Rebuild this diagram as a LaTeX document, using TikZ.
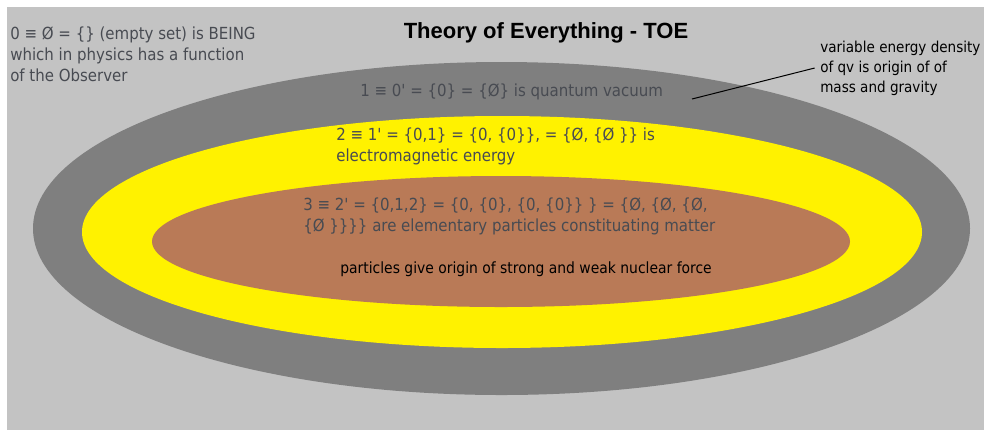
\documentclass[tikz,border=0pt]{standalone}
\usepackage{fontspec}
\newfontfamily\labelfont{DejaVu Sans Condensed}
\newfontfamily\titlefont{Liberation Sans}
\usetikzlibrary{positioning}
\definecolor{bggrey}{HTML}{C3C3C3}
\definecolor{qvgrey}{HTML}{7F7F7F}
\definecolor{emyellow}{HTML}{FFF200}
\definecolor{matterbrown}{HTML}{B97A57}
\definecolor{textgrey}{HTML}{484B52}

\begin{document}
\begin{tikzpicture}[x=0.75pt, y=-0.75pt]
        \tikzset{
            settext/.style={anchor=west, inner sep=0pt, align=left, text=textgrey,
                font=\labelfont\fontsize{12.5}{15.75}\selectfont},
            notetext/.style={anchor=west, inner sep=0pt, align=left, text=black,
                font=\labelfont\fontsize{11.6}{15}\selectfont},
            titletext/.style={inner sep=0pt, text=black,
                font=\titlefont\bfseries\fontsize{16.5}{19}\selectfont}
        }
        \useasboundingbox (0,0) rectangle (984,430);

        % Layers
        \fill[bggrey] (7,7) rectangle (984,430);
        \fill[qvgrey] (501.5,228.5) ellipse [x radius=468.5, y radius=166.5];
        \fill[emyellow] (502,232) ellipse [x radius=420, y radius=116];
        \fill[matterbrown] (501,241.5) ellipse [x radius=349, y radius=65.5];

        % Nodes
        \node[titletext] (title) at (546,33) {Theory of Everything - TOE};
        \node[settext] (being) at (10,54) {0 ≡ Ø = \{\} (empty set) is BEING\\which in physics has a function\\of the Observer};
        \node[settext] (vacuum) at (360,92) {1 ≡ 0' = \{0\} = \{Ø\} is quantum vacuum};
        \node[settext] (energy) at (336,146.5) {2 ≡ 1' = \{0,1\} = \{0, \{0\}\}, = \{Ø, \{Ø \}\} is\\electromagnetic energy};
        \node[settext] (matter) at (303,216) {3 ≡ 2' = \{0,1,2\} = \{0, \{0\}, \{0, \{0\}\} \} = \{Ø, \{Ø, \{Ø,\\\{Ø \}\}\}\} are elementary particles constituating matter};
        \node[notetext] (force) at (340,269) {particles give origin of strong and weak nuclear force};
        \node[notetext, font=\labelfont\fontsize{11.3}{15}\selectfont] (gravity) at (820,68) {variable energy density\\of qv is origin of of\\mass and gravity};
        \coordinate (qv) at (692,99);

        % Leader
        \draw[black, line width=0.75pt] ([xshift=-4]gravity.west) -- (qv);
    \end{tikzpicture}
\end{document}
